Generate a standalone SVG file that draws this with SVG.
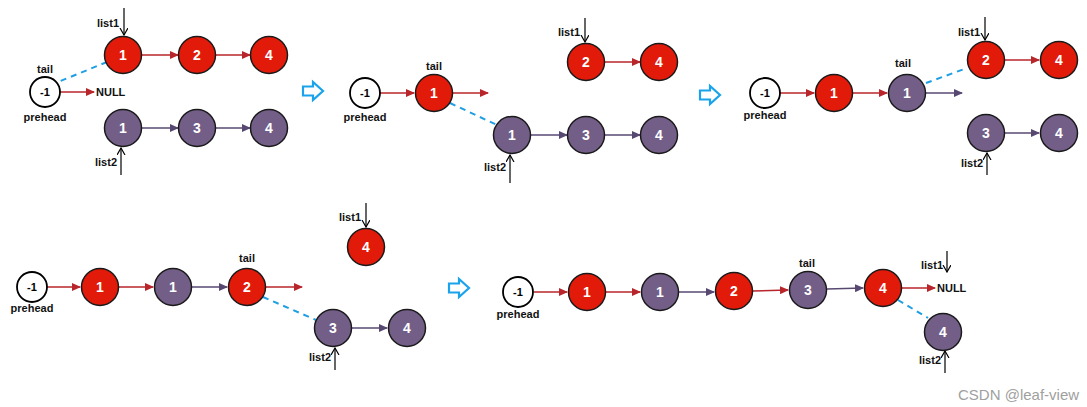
<svg xmlns="http://www.w3.org/2000/svg" width="1087" height="407" viewBox="0 0 1087 407">
<style>
.bg{fill:#ffffff}
.r{fill:#e21a0a;stroke:#1a1a1a;stroke-width:1.5}
.p{fill:#735e88;stroke:#1a1a1a;stroke-width:1.5}
.h{fill:#ffffff;stroke:#000;stroke-width:1.8}
.nt{font-family:"Liberation Sans",Arial,sans-serif;font-weight:bold;font-size:14px;fill:#fff;text-anchor:middle}
.ht{font-family:"Liberation Sans",Arial,sans-serif;font-weight:bold;font-size:11px;fill:#000;text-anchor:middle}
.lb{font-family:"Liberation Sans",Arial,sans-serif;font-weight:bold;font-size:11px;fill:#111}
.mid{text-anchor:middle}
.end{text-anchor:end}
.er{stroke:#b8252a;stroke-width:1.6;fill:none;marker-end:url(#mr)}
.ep{stroke:#574872;stroke-width:1.6;fill:none;marker-end:url(#mp)}
.ptr{stroke:#000;stroke-width:1.2;fill:none;marker-end:url(#mb)}
.dash{stroke:#1e9fe4;stroke-width:2;stroke-dasharray:6,5;fill:none}
.big{fill:#fff;stroke:#1aa3ea;stroke-width:2.2}
.wm{font-family:"Liberation Sans",Arial,sans-serif;font-size:15px;fill:#a0a0a0}
</style>
<defs>
<marker id="mr" markerWidth="9" markerHeight="8" refX="8" refY="4" orient="auto" markerUnits="userSpaceOnUse"><path d="M0,0 L9,4 L0,8 Z" fill="#b8252a"/></marker>
<marker id="mp" markerWidth="9" markerHeight="8" refX="8" refY="4" orient="auto" markerUnits="userSpaceOnUse"><path d="M0,0 L9,4 L0,8 Z" fill="#574872"/></marker>
<marker id="mb" markerWidth="8" markerHeight="10" refX="7" refY="4" orient="auto" markerUnits="userSpaceOnUse"><path d="M0,0 L7,4 L0,8" fill="none" stroke="#000" stroke-width="1.2"/></marker>
<path id="bigArrow" d="M0,-4.5 H10 V-9 L20,0 L10,9 V4.5 H0 Z"/>
</defs>
<rect class="bg" width="1087" height="407"/>

<!-- transition arrows -->
<g id="step-arrows">
<use href="#bigArrow" class="big" x="303" y="91"/>
<use href="#bigArrow" class="big" x="700" y="95"/>
<use href="#bigArrow" class="big" x="449" y="288"/>
</g>

<!-- connectors -->
<g id="connectors">
<!-- A -->
<line class="er" x1="142" y1="55" x2="178" y2="55"/>
<line class="er" x1="216" y1="55" x2="250" y2="55"/>
<line class="ep" x1="142" y1="128" x2="178" y2="128"/>
<line class="ep" x1="216" y1="128" x2="250" y2="128"/>
<line class="er" x1="60" y1="92" x2="94" y2="92"/>
<line class="dash" x1="107" y1="62" x2="58" y2="82"/>
<line class="ptr" x1="124" y1="8" x2="124" y2="35"/>
<line class="ptr" x1="121" y1="175" x2="121" y2="148"/>
<!-- B -->
<line class="er" x1="380" y1="93" x2="414" y2="93"/>
<line class="er" x1="453" y1="93" x2="488" y2="93"/>
<line class="er" x1="605" y1="62" x2="640" y2="62"/>
<line class="ep" x1="531" y1="135" x2="567" y2="135"/>
<line class="ep" x1="605" y1="135" x2="640" y2="135"/>
<line class="dash" x1="450" y1="103" x2="497" y2="125"/>
<line class="ptr" x1="585" y1="18" x2="585" y2="42"/>
<line class="ptr" x1="510" y1="183" x2="510" y2="155"/>
<!-- C -->
<line class="er" x1="780" y1="93" x2="814" y2="93"/>
<line class="er" x1="853" y1="93" x2="887" y2="93"/>
<line class="ep" x1="926" y1="93" x2="962" y2="93"/>
<line class="er" x1="1005" y1="60" x2="1039" y2="60"/>
<line class="ep" x1="1005" y1="133" x2="1039" y2="133"/>
<line class="dash" x1="926" y1="83" x2="967" y2="68"/>
<line class="ptr" x1="985" y1="17" x2="985" y2="40"/>
<line class="ptr" x1="987" y1="175" x2="987" y2="153"/>
<!-- D -->
<line class="er" x1="47" y1="287" x2="80" y2="287"/>
<line class="er" x1="119" y1="287" x2="153" y2="287"/>
<line class="ep" x1="192" y1="287" x2="227" y2="287"/>
<line class="er" x1="266" y1="287" x2="302" y2="287"/>
<line class="ep" x1="352" y1="328" x2="387" y2="328"/>
<line class="dash" x1="263" y1="297" x2="316" y2="320"/>
<line class="ptr" x1="366" y1="203" x2="366" y2="227"/>
<line class="ptr" x1="335" y1="370" x2="335" y2="348"/>
<!-- E -->
<line class="er" x1="534" y1="292" x2="567" y2="292"/>
<line class="er" x1="606" y1="292" x2="640" y2="292"/>
<line class="ep" x1="679" y1="292" x2="714" y2="292"/>
<line class="er" x1="753" y1="291" x2="788" y2="290"/>
<line class="ep" x1="827" y1="289" x2="863" y2="288"/>
<line class="er" x1="902" y1="288" x2="935" y2="288"/>
<line class="dash" x1="898" y1="300" x2="928" y2="318"/>
<line class="ptr" x1="947" y1="251" x2="947" y2="272"/>
<line class="ptr" x1="945" y1="373" x2="945" y2="351"/>
</g>

<!-- Section A -->
<g id="A-prehead"><circle class="h" cx="45" cy="92" r="15"/><text class="ht" x="45" y="96">-1</text></g>
<g id="A-labels">
<text class="lb mid" x="45" y="73">tail</text>
<text class="lb mid" x="45" y="121">prehead</text>
<text class="lb" x="96" y="96">NULL</text>
<text class="lb end" x="119" y="27">list1</text>
<text class="lb end" x="117" y="166">list2</text>
</g>
<g id="A-l1-1"><circle class="r" cx="123" cy="55" r="18.5"/><text class="nt" x="123" y="60">1</text></g>
<g id="A-l1-2"><circle class="r" cx="197" cy="55" r="18.5"/><text class="nt" x="197" y="60">2</text></g>
<g id="A-l1-4"><circle class="r" cx="269" cy="55" r="18.5"/><text class="nt" x="269" y="60">4</text></g>
<g id="A-l2-1"><circle class="p" cx="123" cy="128" r="18.5"/><text class="nt" x="123" y="133">1</text></g>
<g id="A-l2-3"><circle class="p" cx="197" cy="128" r="18.5"/><text class="nt" x="197" y="133">3</text></g>
<g id="A-l2-4"><circle class="p" cx="269" cy="128" r="18.5"/><text class="nt" x="269" y="133">4</text></g>

<!-- Section B -->
<g id="B-prehead"><circle class="h" cx="365" cy="93" r="15"/><text class="ht" x="365" y="97">-1</text></g>
<g id="B-labels">
<text class="lb mid" x="434" y="70">tail</text>
<text class="lb mid" x="365" y="121">prehead</text>
<text class="lb end" x="580" y="36">list1</text>
<text class="lb end" x="506" y="171">list2</text>
</g>
<g id="B-1"><circle class="r" cx="434" cy="93" r="18.5"/><text class="nt" x="434" y="98">1</text></g>
<g id="B-l1-2"><circle class="r" cx="586" cy="62" r="18.5"/><text class="nt" x="586" y="67">2</text></g>
<g id="B-l1-4"><circle class="r" cx="659" cy="62" r="18.5"/><text class="nt" x="659" y="67">4</text></g>
<g id="B-l2-1"><circle class="p" cx="512" cy="135" r="18.5"/><text class="nt" x="512" y="140">1</text></g>
<g id="B-l2-3"><circle class="p" cx="586" cy="135" r="18.5"/><text class="nt" x="586" y="140">3</text></g>
<g id="B-l2-4"><circle class="p" cx="659" cy="135" r="18.5"/><text class="nt" x="659" y="140">4</text></g>

<!-- Section C -->
<g id="C-prehead"><circle class="h" cx="765" cy="93" r="15"/><text class="ht" x="765" y="97">-1</text></g>
<g id="C-labels">
<text class="lb mid" x="903" y="67">tail</text>
<text class="lb mid" x="765" y="119">prehead</text>
<text class="lb end" x="980" y="36">list1</text>
<text class="lb end" x="983" y="167">list2</text>
</g>
<g id="C-1r"><circle class="r" cx="834" cy="93" r="18.5"/><text class="nt" x="834" y="98">1</text></g>
<g id="C-1p"><circle class="p" cx="907" cy="93" r="18.5"/><text class="nt" x="907" y="98">1</text></g>
<g id="C-l1-2"><circle class="r" cx="986" cy="60" r="18.5"/><text class="nt" x="986" y="65">2</text></g>
<g id="C-l1-4"><circle class="r" cx="1059" cy="60" r="18.5"/><text class="nt" x="1059" y="65">4</text></g>
<g id="C-l2-3"><circle class="p" cx="986" cy="133" r="18.5"/><text class="nt" x="986" y="138">3</text></g>
<g id="C-l2-4"><circle class="p" cx="1059" cy="133" r="18.5"/><text class="nt" x="1059" y="138">4</text></g>

<!-- Section D -->
<g id="D-prehead"><circle class="h" cx="32" cy="287" r="15"/><text class="ht" x="32" y="291">-1</text></g>
<g id="D-labels">
<text class="lb mid" x="247" y="262">tail</text>
<text class="lb mid" x="32" y="312">prehead</text>
<text class="lb end" x="361" y="221">list1</text>
<text class="lb end" x="331" y="361">list2</text>
</g>
<g id="D-1r"><circle class="r" cx="100" cy="287" r="18.5"/><text class="nt" x="100" y="292">1</text></g>
<g id="D-1p"><circle class="p" cx="173" cy="287" r="18.5"/><text class="nt" x="173" y="292">1</text></g>
<g id="D-2r"><circle class="r" cx="247" cy="287" r="18.5"/><text class="nt" x="247" y="292">2</text></g>
<g id="D-l1-4"><circle class="r" cx="366" cy="247" r="18.5"/><text class="nt" x="366" y="252">4</text></g>
<g id="D-l2-3"><circle class="p" cx="333" cy="328" r="18.5"/><text class="nt" x="333" y="333">3</text></g>
<g id="D-l2-4"><circle class="p" cx="407" cy="328" r="18.5"/><text class="nt" x="407" y="333">4</text></g>

<!-- Section E -->
<g id="E-prehead"><circle class="h" cx="518" cy="292" r="15"/><text class="ht" x="518" y="296">-1</text></g>
<g id="E-labels">
<text class="lb mid" x="807" y="267">tail</text>
<text class="lb mid" x="518" y="318">prehead</text>
<text class="lb" x="937" y="292">NULL</text>
<text class="lb end" x="943" y="269">list1</text>
<text class="lb end" x="941" y="364">list2</text>
</g>
<g id="E-1r"><circle class="r" cx="587" cy="292" r="18.5"/><text class="nt" x="587" y="297">1</text></g>
<g id="E-1p"><circle class="p" cx="660" cy="292" r="18.5"/><text class="nt" x="660" y="297">1</text></g>
<g id="E-2r"><circle class="r" cx="734" cy="291" r="18.5"/><text class="nt" x="734" y="296">2</text></g>
<g id="E-3p"><circle class="p" cx="808" cy="290" r="18.5"/><text class="nt" x="808" y="295">3</text></g>
<g id="E-4r"><circle class="r" cx="883" cy="288" r="18.5"/><text class="nt" x="883" y="293">4</text></g>
<g id="E-l2-4"><circle class="p" cx="943" cy="332" r="18.5"/><text class="nt" x="943" y="337">4</text></g>

<text class="wm" x="958" y="400">CSDN @leaf-view</text>
</svg>
